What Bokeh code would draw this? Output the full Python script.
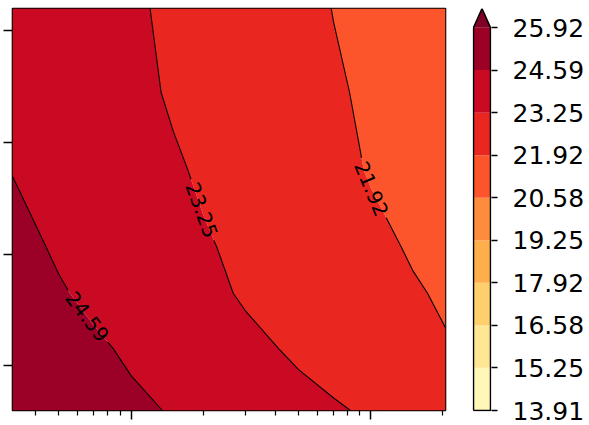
import numpy as np
from bokeh.plotting import figure
from bokeh.plotting.contour import contour_data
from bokeh.models import FixedTicker, PrintfTickFormatter, CustomJSTickFormatter
from bokeh.layouts import row
from bokeh.core.properties import value
from bokeh.embed import file_html
from bokeh.resources import INLINE

# ---------------- data ----------------
X = [3.2, 5, 7, 10, 15, 20, 30, 50, 70, 100, 150, 205]          # log-scaled axis
Y = [0.6, 1.15, 1.65, 2.05, 2.75, 3.45, 4.2]
Z = [
    [25.64, 25.31, 25.06, 24.80, 24.50, 24.28, 23.98, 23.61, 23.36, 23.09, 22.79, 22.56],
    [25.42, 25.03, 24.74, 24.43, 24.08, 23.84, 23.49, 23.07, 22.82, 22.55, 22.24, 22.00],
    [25.06, 24.67, 24.38, 24.07, 23.71, 23.47, 23.14, 22.78, 22.55, 22.29, 22.01, 21.79],
    [24.84, 24.48, 24.20, 23.91, 23.57, 23.34, 23.03, 22.65, 22.40, 22.13, 21.83, 21.60],
    [24.57, 24.22, 23.96, 23.67, 23.35, 23.13, 22.81, 22.40, 22.14, 21.86, 21.54, 21.29],
    [24.28, 23.95, 23.71, 23.45, 23.15, 22.94, 22.64, 22.27, 22.02, 21.76, 21.47, 21.24],
    [24.24, 23.90, 23.65, 23.37, 23.07, 22.85, 22.54, 22.15, 21.90, 21.63, 21.32, 21.08],
]
LEVELS = [13.91, 15.25, 16.58, 17.92, 19.25, 20.58, 21.92, 23.25, 24.59, 25.92]
FILL_COLORS = ["#fff7b8", "#ffe692", "#fed06d", "#feae4a", "#fd8d3c",
               "#fc552c", "#e9261f", "#ca0923", "#9b0026"]
EXTEND_COLOR = "#800026"
Y_TICKS = [1, 2, 3, 4]
X_MAJOR = [10, 100]
X_MINOR = [4, 5, 6, 7, 8, 9, 20, 30, 40, 50, 60, 70, 80, 90, 200]
# where along each contour line (fraction of its length, from the top) the label sits
LABEL_FRACTION = {"21.92": 0.54, "23.25": 0.45, "24.59": 0.57}

# ---------------- main contour plot ----------------
FW, FH = 433, 402
FONT = "DejaVu Sans"
LABEL_FS = 20

p = figure(frame_width=FW, frame_height=FH, x_axis_type="log",
           x_range=(X[0], X[-1]), y_range=(Y[0], Y[-1]),
           output_backend="svg", toolbar_location=None,
           min_border_left=12, min_border_right=15, min_border_top=8, min_border_bottom=14)
p.grid.visible = False
p.background_fill_color = "white"
p.border_fill_color = "white"
p.outline_line_color = "black"
p.outline_line_width = 1.6
p.outline_line_alpha = 1.0

p.contour(X, Y, np.array(Z), LEVELS, fill_color=FILL_COLORS, line_color=None)

# contour lines with inline labels
cd = contour_data(x=X, y=Y, z=np.array(Z), levels=LEVELS, want_fill=False, want_line=True)
ld = cd.line_data
lx0, lx1 = np.log10(X[0]), np.log10(X[-1])


def to_screen(xs, ys):
    sx = (np.log10(xs) - lx0) / (lx1 - lx0) * FW
    sy = (Y[-1] - ys) / (Y[-1] - Y[0]) * FH
    return sx, sy


def to_data(sx, sy):
    return 10 ** (lx0 + sx / FW * (lx1 - lx0)), Y[-1] - sy / FH * (Y[-1] - Y[0])


def text_width(t, fs):
    return sum(0.318 if c == "." else 0.636 for c in t) * fs


seg_xs, seg_ys = [], []
lab_x, lab_y, lab_t, lab_a = [], [], [], []
for i in range(len(ld.xs)):
    lev = float(ld.levels[i])
    txt = "%.2f" % lev
    ax = np.asarray(ld.xs[i], dtype=float)
    ay = np.asarray(ld.ys[i], dtype=float)
    if ax.size == 0:
        continue
    nan = np.isnan(ax) | np.isnan(ay)
    idx = np.where(nan)[0]
    starts = np.concatenate([[0], idx + 1])
    ends = np.concatenate([idx, [ax.size]])
    for s0, e0 in zip(starts, ends):
        px, py = ax[s0:e0], ay[s0:e0]
        if px.size < 2:
            continue
        sx, sy = to_screen(px, py)
        if sy[0] > sy[-1]:
            sx, sy, px, py = sx[::-1], sy[::-1], px[::-1], py[::-1]
        d = np.hypot(np.diff(sx), np.diff(sy))
        s = np.concatenate([[0], np.cumsum(d)])
        total = s[-1]
        frac = LABEL_FRACTION.get(txt)
        if frac is None or total < 80:
            seg_xs.append([float(v) for v in px]); seg_ys.append([float(v) for v in py])
            continue
        sc = frac * total
        tw = text_width(txt, LABEL_FS)
        gap = tw / 2 + 4
        cx, cy = np.interp(sc, s, sx), np.interp(sc, s, sy)
        x1, y1 = np.interp(sc - tw / 2, s, sx), np.interp(sc - tw / 2, s, sy)
        x2, y2 = np.interp(sc + tw / 2, s, sx), np.interp(sc + tw / 2, s, sy)
        dx, dy = x2 - x1, y2 - y1
        if dx < 0:
            dx, dy = -dx, -dy
        ang = np.arctan2(-dy, dx)
        dxd, dyd = to_data(np.array([cx]), np.array([cy]))
        lab_x.append(float(dxd[0])); lab_y.append(float(dyd[0]))
        lab_t.append(txt); lab_a.append(float(ang))
        a = sc - gap
        m = s < a
        bx = np.concatenate([sx[m], [np.interp(a, s, sx)]])
        by = np.concatenate([sy[m], [np.interp(a, s, sy)]])
        dxa, dya = to_data(bx, by)
        seg_xs.append([float(v) for v in dxa]); seg_ys.append([float(v) for v in dya])
        b = sc + gap
        m = s > b
        bx = np.concatenate([[np.interp(b, s, sx)], sx[m]])
        by = np.concatenate([[np.interp(b, s, sy)], sy[m]])
        dxa, dya = to_data(bx, by)
        seg_xs.append([float(v) for v in dxa]); seg_ys.append([float(v) for v in dya])

p.multi_line(xs=seg_xs, ys=seg_ys, line_color="black", line_width=1.1)
p.text(x=lab_x, y=lab_y, text=lab_t, angle=lab_a, text_align="center",
       text_baseline="middle", text_font=value(FONT),
       text_font_size="%dpx" % LABEL_FS, text_color="black")

blank = CustomJSTickFormatter(code="return ''")
for ax_ in (p.xaxis[0], p.yaxis[0]):
    ax_.axis_line_color = None
    ax_.formatter = blank
    ax_.major_label_text_font_size = "1px"
    ax_.major_label_standoff = 0
    ax_.major_tick_in = 0
    ax_.minor_tick_in = 0
    ax_.major_tick_line_color = "black"
    ax_.minor_tick_line_color = "black"
    ax_.major_tick_line_width = 1.5
    ax_.minor_tick_line_width = 1.2
p.xaxis.ticker = FixedTicker(ticks=X_MAJOR, minor_ticks=X_MINOR)
p.xaxis.major_tick_out = 9
p.xaxis.minor_tick_out = 5
p.yaxis.ticker = FixedTicker(ticks=Y_TICKS, minor_ticks=[])
p.yaxis.major_tick_out = 9
p.yaxis.minor_tick_out = 0

# ---------------- colour bar ----------------
lo, hi = LEVELS[0], LEVELS[-1]
ext = 0.05 * (hi - lo)
CH = 403
R = (hi + ext - lo) * CH / (CH - 1)
cb = figure(frame_width=19, frame_height=CH, x_range=(-1 / 17, 1 + 1 / 17),
            y_range=(hi + ext - R, hi + ext), y_axis_location="right",
            output_backend="svg", toolbar_location=None,
            min_border_left=12, min_border_right=0, min_border_top=8, min_border_bottom=14)
cb.grid.visible = False
cb.outline_line_color = None
cb.xaxis.visible = False
cb.quad(left=0, right=1, bottom=LEVELS[:-1], top=LEVELS[1:], fill_color=FILL_COLORS, line_color=None)
cb.patch([0, 1, 0.5], [hi, hi, hi + ext], fill_color=EXTEND_COLOR, line_color=None)
cb.line(x=[0, 1, 1, 0.5, 0, 0], y=[lo, lo, hi, hi + ext, hi, lo], line_color="black", line_width=1.5)
ya = cb.yaxis[0]
ya.ticker = FixedTicker(ticks=LEVELS, minor_ticks=[])
ya.formatter = PrintfTickFormatter(format="%.2f")
ya.axis_line_color = None
ya.major_tick_in = 0
ya.major_tick_out = 6
ya.minor_tick_out = 0
ya.major_tick_line_color = "black"
ya.major_tick_line_width = 1.5
ya.major_label_standoff = 15
ya.major_label_text_font = FONT
ya.major_label_text_font_size = "25px"
ya.major_label_text_color = "black"

layout = row(p, cb)
open("out.html", "w").write(file_html(layout, INLINE))
